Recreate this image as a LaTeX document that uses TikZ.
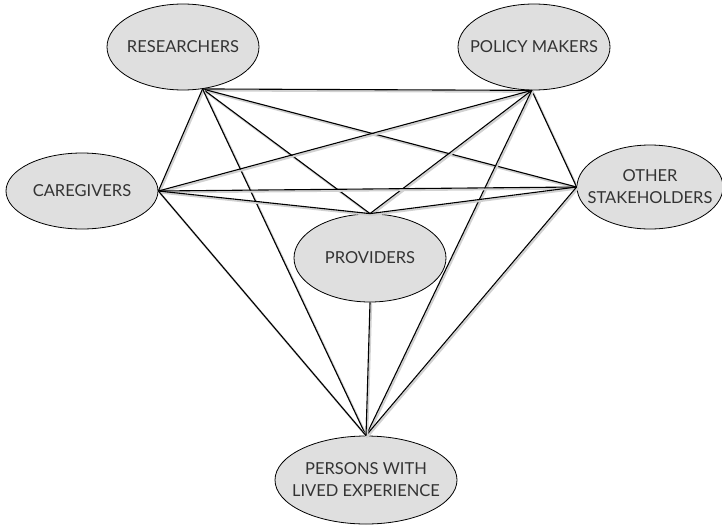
\documentclass[tikz,border=0pt]{standalone}
\usepackage{fontspec}
\setmainfont{Lato}
\usetikzlibrary{shapes.geometric}

\begin{document}
\begin{tikzpicture}
  [x=1pt,y=-1pt,
   every node/.style={ellipse,draw=black,fill=gray!25,line width=0.8pt,inner sep=-12pt,
     text=black!80,font=\fontsize{16.5}{22}\selectfont,align=center},
   link/.style={line width=1.1pt,black},
   linkshade/.style={line width=2pt,black!18,line cap=round}]

  \useasboundingbox (0,0) rectangle (722,525);

  \node[minimum width=152pt,minimum height=86pt] (res)  at (183,47)  {RESEARCHERS};
  \node[minimum width=152pt,minimum height=86pt] (pol)  at (534,47)  {POLICY MAKERS};
  \node[minimum width=152pt,minimum height=76pt] (care) at (82,191)  {CAREGIVERS};
  \node[minimum width=146pt,minimum height=84pt] (oth)  at (650,187) {OTHER\\STAKEHOLDERS};
  \node[minimum width=152pt,minimum height=88pt] (prov) at (370,258) {PROVIDERS};
  \node[minimum width=182pt,minimum height=88pt] (pwle) at (366,480) {PERSONS WITH\\LIVED EXPERIENCE};

  % every group is tied to every other one
  \foreach \from/\to in {res.-65/pol.-93, res.-65/care.east, res.-65/oth.west, res.-65/prov.north,
      res.-65/pwle.north, pol.-93/care.east, pol.-93/oth.west, pol.-93/prov.north,
      pol.-93/pwle.north, care.east/oth.west, care.east/prov.north, care.east/pwle.north,
      oth.west/prov.north, oth.west/pwle.north, prov.south/pwle.north}
  {
    \draw[linkshade,transform canvas={shift={(1.2pt,-1.5pt)}}] (\from) -- (\to);
    \draw[link] (\from) -- (\to);
  }

\end{tikzpicture}
\end{document}
